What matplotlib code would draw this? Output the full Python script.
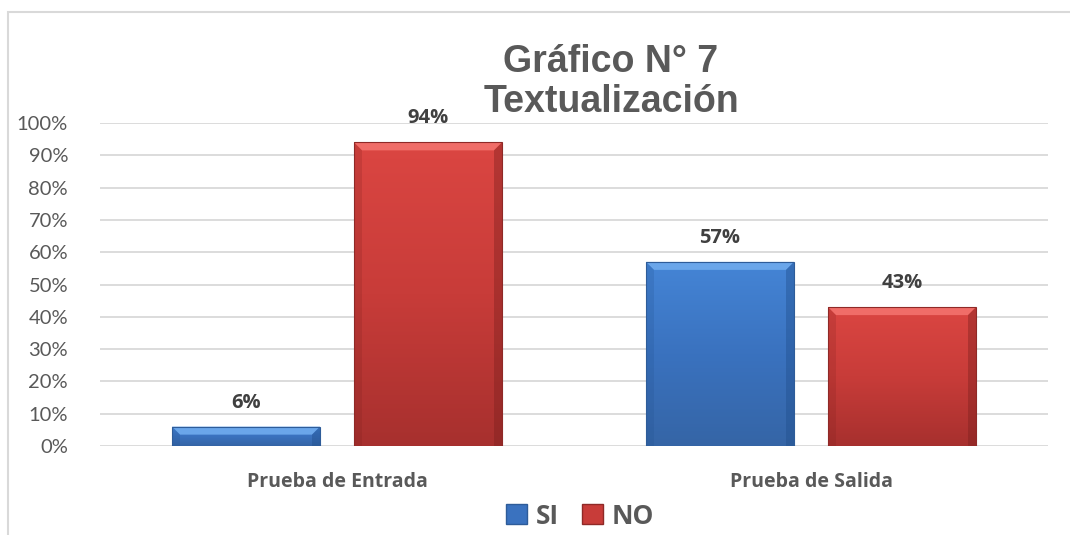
import numpy as np
import matplotlib
matplotlib.use("Agg")
import matplotlib.pyplot as plt
from matplotlib.patches import Rectangle, Polygon, Patch
from matplotlib.colors import LinearSegmentedColormap

categories = ["Prueba de Entrada", "Prueba de Salida"]
series_names = ["SI", "NO"]
si_values = [0.06, 0.57]
no_values = [0.94, 0.43]
yticks = [0, 0.1, 0.2, 0.3, 0.4, 0.5, 0.6, 0.7, 0.8, 0.9, 1.0]
ytick_labels = ["0%", "10%", "20%", "30%", "40%", "50%", "60%", "70%", "80%", "90%", "100%"]
title_lines = ["Gráfico N° 7", "Textualización"]

W, H = 1070, 535
fig = plt.figure(figsize=(W / 100, H / 100), dpi=100)
fig.patch.set_facecolor("white")

# chart box border
fig.add_artist(Rectangle((8 / W, -0.05), 1.1, 1 - 12 / H + 0.05, transform=fig.transFigure,
                         fill=False, edgecolor="#d9d9d9", lw=1.5))

ax = fig.add_axes([100 / W, 1 - 446 / H, 948 / W, 323 / H])
ax.set_xlim(-0.5, 1.5)
ax.set_ylim(0, 1)
for s in ax.spines.values():
    s.set_visible(False)
ax.set_yticks(yticks)
ax.set_yticklabels(ytick_labels, fontsize=14.5, color="#595959", fontfamily="Lato")
ax.tick_params(axis="y", length=0, pad=23)
ax.set_xticks([0, 1])
ax.set_xticklabels(categories, fontsize=14, fontweight="bold", color="#595959", fontfamily="Open Sans")
ax.tick_params(axis="x", length=0, pad=19)
ax.grid(axis="y", color="#d9d9d9", lw=1.3)
ax.set_axisbelow(True)

bw = 148 / 474
gap = 34 / 474
x = np.arange(len(categories))
x_si = x - (bw + gap) / 2
x_no = x + (bw + gap) / 2

cmap_si = LinearSegmentedColormap.from_list("si", ["#3565a6", "#3a72bf", "#4585d6"])
cmap_no = LinearSegmentedColormap.from_list("no", ["#a7302e", "#c83c39", "#db4642"])

bars_si = ax.bar(x_si, si_values, width=bw, color="#3a72bf", edgecolor="none", zorder=2, label=series_names[0])
bars_no = ax.bar(x_no, no_values, width=bw, color="#c83c39", edgecolor="none", zorder=2, label=series_names[1])

bx = 8 / 474      # bevel size in data x
by = 8 / 323      # bevel size in data y
grad = np.linspace(0, 1, 256).reshape(-1, 1)

def decorate(bars, cmap, light, dark, edge):
    for b in bars:
        x0, y0 = b.get_x(), b.get_y()
        w, h = b.get_width(), b.get_height()
        im = ax.imshow(grad, cmap=cmap, extent=[x0, x0 + w, y0, y0 + h], origin="lower",
                       aspect="auto", zorder=2.1, interpolation="bicubic")
        im.set_clip_path(b)
        byy = min(by, h / 2)
        # top bevel
        ax.add_patch(Polygon([(x0, y0 + h), (x0 + w, y0 + h), (x0 + w - bx, y0 + h - byy),
                              (x0 + bx, y0 + h - byy)], closed=True, facecolor=light,
                             edgecolor="none", zorder=2.2))
        # side bevels
        ax.add_patch(Polygon([(x0, y0 + h), (x0 + bx, y0 + h - byy), (x0 + bx, y0), (x0, y0)],
                             closed=True, facecolor=dark, alpha=0.2, edgecolor="none", zorder=2.2))
        ax.add_patch(Polygon([(x0 + w, y0 + h), (x0 + w - bx, y0 + h - byy), (x0 + w - bx, y0),
                              (x0 + w, y0)], closed=True, facecolor=dark, alpha=0.4,
                             edgecolor="none", zorder=2.2))
        ax.add_patch(Rectangle((x0, y0), w, h, fill=False, edgecolor=edge, lw=0.8, zorder=2.3))

decorate(bars_si, cmap_si, "#6aa6ea", "#1f4d8a", "#2e5c99")
decorate(bars_no, cmap_no, "#f06d68", "#7a1f1d", "#8f2927")

for xs, vals in ((x_si, si_values), (x_no, no_values)):
    for xi, v in zip(xs, vals):
        ax.text(xi, v + 0.074, f"{round(v * 100)}%", ha="center", va="center", fontsize=14.5,
                fontweight="bold", color="#404040", fontfamily="Open Sans", zorder=5)

for line, base_y in zip(title_lines, (72, 112)):
    fig.text(611 / W, 1 - base_y / H, line, ha="center", va="baseline", fontsize=27,
             fontweight="bold", color="#595959", fontfamily="Liberation Sans")

handles = [Patch(facecolor="#3a72bf", edgecolor="#2e5c99"), Patch(facecolor="#c83c39", edgecolor="#8f2927")]
leg = fig.legend(handles, series_names, loc="center", bbox_to_anchor=(580 / W, 1 - 516 / H), ncol=2,
                 frameon=False, handlelength=0.8, handleheight=0.8, handletextpad=0.3,
                 columnspacing=0.9, prop={"family": "Open Sans", "weight": "bold", "size": 19})
for t in leg.get_texts():
    t.set_color("#595959")

fig.savefig("out.png", dpi=100, facecolor="white")
